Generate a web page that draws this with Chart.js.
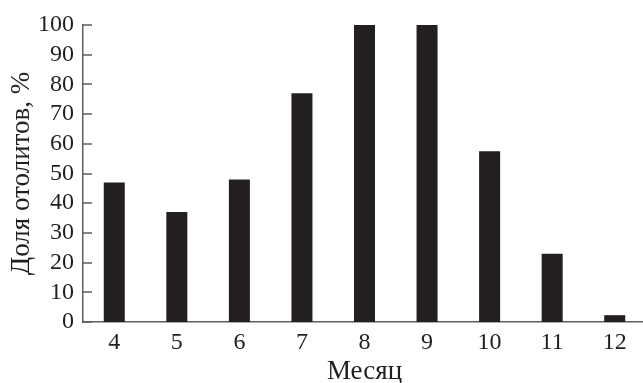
<!DOCTYPE html>
<html>
<head>
<meta charset="utf-8">
<script src="https://cdn.jsdelivr.net/npm/chart.js@4.4.1/dist/chart.umd.min.js"></script>
<style>
  html, body { margin: 0; padding: 0; background: #fff; overflow: hidden; }
  #wrap { width: 646px; height: 383px; }
</style>
</head>
<body>
<div id="wrap"><canvas id="c" width="646" height="383"></canvas></div>
<script>
// Share of otoliths by month
const months = ['4', '5', '6', '7', '8', '9', '10', '11', '12'];
const sharePct = [47, 37, 48, 77, 100, 100, 57.5, 23, 2.3];
const yTicks = [0, 10, 20, 30, 40, 50, 60, 70, 80, 90, 100];

const ink = '#231f20';
const axisGray = '#5e5e60';
const serif = "'Liberation Serif', 'Times New Roman', serif";

// short tick marks drawn inward from the y axis
const innerTicks = {
  id: 'innerTicks',
  afterDatasetsDraw(chart) {
    const y = chart.scales.y;
    const ctx = chart.ctx;
    ctx.save();
    ctx.strokeStyle = axisGray;
    ctx.lineWidth = 1.5;
    y.ticks.forEach(t => {
      const py = Math.round(y.getPixelForValue(t.value));
      ctx.beginPath();
      ctx.moveTo(y.right, py);
      ctx.lineTo(y.right + 9, py);
      ctx.stroke();
    });
    ctx.restore();
  }
};

new Chart(document.getElementById('c'), {
  type: 'bar',
  data: {
    labels: months,
    datasets: [{
      data: sharePct,
      backgroundColor: ink,
      borderWidth: 0,
      categoryPercentage: 1,
      barPercentage: 0.336
    }]
  },
  options: {
    responsive: false,
    animation: false,
    layout: { padding: { top: 25, right: 0, left: 0, bottom: 0 } },
    plugins: { legend: { display: false }, tooltip: { enabled: false } },
    scales: {
      x: {
        grid: { display: false, drawTicks: false },
        border: { display: true, color: axisGray, width: 1.5 },
        ticks: { color: ink, font: { family: serif, size: 24 }, padding: 6, maxRotation: 0, autoSkip: false },
        title: {
          display: true, text: 'Месяц', color: ink,
          font: { family: serif, size: 27, lineHeight: 0.8 }, padding: { top: 0, bottom: 0 }
        },
        afterFit(s) { s.height = 61; }
      },
      y: {
        min: 0, max: 100,
        afterBuildTicks(s) { s.ticks = yTicks.map(v => ({ value: v })); },
        grid: { display: false, drawTicks: false },
        border: { display: true, color: axisGray, width: 1.5 },
        ticks: { color: ink, font: { family: serif, size: 24 }, padding: 9, autoSkip: false },
        title: {
          display: true, text: 'Доля отолитов, %', color: ink,
          font: { family: serif, size: 27, lineHeight: 1 }, padding: { top: 8, bottom: 0 }
        },
        afterFit(s) { s.width = 83; }
      }
    }
  },
  plugins: [innerTicks]
});
</script>
</body>
</html>
